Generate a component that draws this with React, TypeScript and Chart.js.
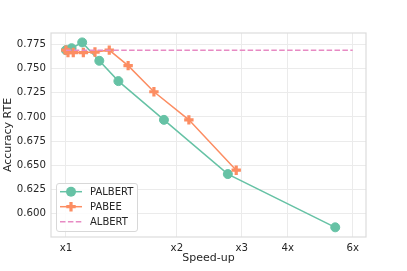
import React, { useEffect, useRef } from "react";
import { Chart, registerables } from "chart.js";

Chart.register(...registerables);

const palbertX = [1.0, 1.036, 1.107, 1.232, 1.388, 1.845, 2.75, 5.38];
const palbertY = [0.769, 0.771, 0.777, 0.758, 0.737, 0.697, 0.641, 0.586];
const pabeeX = [1.0, 1.013, 1.047, 1.115, 1.199, 1.311, 1.475, 1.733, 2.156, 2.898];
const pabeeY = [0.769, 0.7665, 0.7665, 0.7665, 0.767, 0.769, 0.753, 0.726, 0.697, 0.645];
const albertX = [1, 6];
const albertY = [0.769, 0.769];
const xTickValues = [1, 2, 3, 4, 6];
const xTickLabels = ["x1", "x2", "x3", "4x", "6x"];
const yTickValues = [0.6, 0.625, 0.65, 0.675, 0.7, 0.725, 0.75, 0.775];
const seriesNames = ["PALBERT", "PABEE", "ALBERT"];

const GREEN = "#66c2a5";
const ORANGE = "#fc8d62";
const PINK = "#e78ac3";
const TEXT = "#262626";
const FONT = "'DejaVu Sans', sans-serif";

const toPoints = (xs: number[], ys: number[]) => xs.map((x, i) => ({ x, y: ys[i] }));

const framePlugin = {
  id: "frame",
  beforeDatasetsDraw(chart: any) {
    const { ctx, chartArea: a } = chart;
    ctx.save();
    ctx.strokeStyle = "#dcdcdc";
    ctx.lineWidth = 1.2;
    ctx.strokeRect(a.left, a.top, a.right - a.left, a.bottom - a.top);
    ctx.restore();
  },
};

const legendPlugin = {
  id: "mplLegend",
  afterDraw(chart: any) {
    const { ctx, chartArea: a } = chart;
    const bx = a.left + 5;
    const by = a.bottom - 54;
    const bw = 81;
    const bh = 48;
    ctx.save();
    ctx.fillStyle = "rgba(255,255,255,0.85)";
    ctx.strokeStyle = "#d8d8d8";
    ctx.lineWidth = 1;
    ctx.beginPath();
    (ctx as any).roundRect(bx + 0.5, by + 0.5, bw, bh, 2.5);
    ctx.fill();
    ctx.stroke();
    const rows = [by + 8.7, by + 23.7, by + 38.7];
    const colors = [GREEN, ORANGE, PINK];
    rows.forEach((ry, i) => {
      ctx.strokeStyle = colors[i];
      ctx.lineWidth = 1.5;
      ctx.setLineDash(i === 2 ? [5.5, 2.4] : []);
      ctx.beginPath();
      ctx.moveTo(bx + 4, ry);
      ctx.lineTo(bx + 26, ry);
      ctx.stroke();
      ctx.setLineDash([]);
      const mx = bx + 15;
      if (i === 0) {
        ctx.fillStyle = GREEN;
        ctx.beginPath();
        ctx.arc(mx, ry, 5, 0, Math.PI * 2);
        ctx.fill();
      } else if (i === 1) {
        ctx.strokeStyle = ORANGE;
        ctx.lineWidth = 3.2;
        ctx.beginPath();
        ctx.moveTo(mx - 4.7, ry);
        ctx.lineTo(mx + 4.7, ry);
        ctx.moveTo(mx, ry - 4.7);
        ctx.lineTo(mx, ry + 4.7);
        ctx.stroke();
      }
      ctx.fillStyle = TEXT;
      ctx.font = `10px ${FONT}`;
      ctx.textBaseline = "middle";
      ctx.textAlign = "left";
      ctx.fillText(seriesNames[i], bx + 34, ry + 0.5);
    });
    ctx.restore();
  },
};

export default function App() {
  const ref = useRef<HTMLCanvasElement>(null);
  useEffect(() => {
    document.body.style.margin = "0";
    const chart = new Chart(ref.current!, {
      type: "line",
      data: {
        datasets: [
          {
            label: seriesNames[0],
            data: toPoints(palbertX, palbertY),
            borderColor: GREEN,
            backgroundColor: GREEN,
            borderWidth: 1.5,
            pointRadius: 4.5,
            pointBorderWidth: 1,
            pointBorderColor: GREEN,
            pointBackgroundColor: GREEN,
            order: 3,
          },
          {
            label: seriesNames[1],
            data: toPoints(pabeeX, pabeeY),
            borderColor: ORANGE,
            backgroundColor: ORANGE,
            borderWidth: 1.5,
            pointStyle: "cross",
            pointRadius: 4.7,
            pointBorderWidth: 3.2,
            pointBorderColor: ORANGE,
            order: 2,
          },
          {
            label: seriesNames[2],
            data: toPoints(albertX, albertY),
            borderColor: PINK,
            borderWidth: 1.5,
            borderDash: [5.5, 2.4],
            pointRadius: 0,
            order: 1,
          },
        ],
      },
      options: {
        animation: false,
        responsive: false,
        devicePixelRatio: 1,
        layout: { padding: { left: 0, top: 33, right: 41, bottom: 0 } },
        plugins: { legend: { display: false }, tooltip: { enabled: false } },
        scales: {
          x: {
            type: "logarithmic",
            min: 0.911,
            max: 6.52,
            afterBuildTicks: (s: any) => {
              s.ticks = xTickValues.map((v) => ({ value: v }));
            },
            afterFit: (s: any) => {
              s.height = 34;
            },
            ticks: {
              autoSkip: false,
              maxRotation: 0,
              padding: 5,
              color: TEXT,
              font: { family: FONT, size: 10.2 },
              callback: (v: any) => {
                const i = xTickValues.indexOf(Number(v));
                return i >= 0 ? xTickLabels[i] : "";
              },
            },
            grid: { color: "#ebebeb", lineWidth: 1, drawTicks: false },
            border: { display: false },
            title: {
              display: true,
              text: "Speed-up",
              color: TEXT,
              font: { family: FONT, size: 11 },
              padding: { top: 0, bottom: 6 },
            },
          },
          y: {
            type: "linear",
            min: 0.576,
            max: 0.7867,
            afterBuildTicks: (s: any) => {
              s.ticks = yTickValues.map((v) => ({ value: v }));
            },
            afterFit: (s: any) => {
              s.width = 51;
            },
            ticks: {
              padding: 5,
              color: TEXT,
              font: { family: FONT, size: 10.2 },
              callback: (v: any) => Number(v).toFixed(3),
            },
            grid: { color: "#ebebeb", lineWidth: 1, drawTicks: false },
            border: { display: false },
            title: {
              display: true,
              text: "Accuracy RTE",
              color: TEXT,
              font: { family: FONT, size: 11 },
              padding: { top: 2, bottom: 0 },
            },
          },
        },
      },
      plugins: [framePlugin, legendPlugin],
    } as any);
    return () => chart.destroy();
  }, []);
  return (
    <div style={{ width: 407, height: 271 }}>
      <canvas ref={ref} width={407} height={271} style={{ display: "block" }} />
    </div>
  );
}
